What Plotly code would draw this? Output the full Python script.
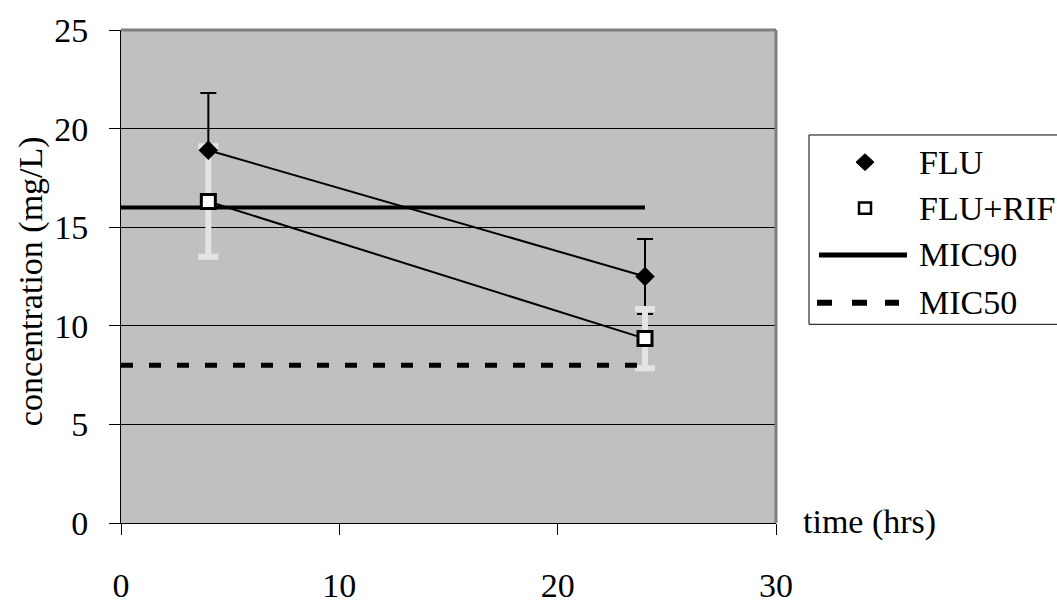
import plotly.graph_objects as go

# Sampling times (hrs) and measured concentrations (mg/L)
time_h = [4, 24]
flu_mean = [18.9, 12.5]
flu_sd = [2.9, 1.9]
flurif_mean = [16.3, 9.35]
flurif_sd = [2.8, 1.5]

# Reference MIC levels drawn across the dosing interval
mic_x = [0, 24]
mic90 = [16, 16]
mic50 = [8, 8]

series_names = ["FLU", "FLU+RIF", "MIC90", "MIC50"]
x_ticks = [0, 10, 20, 30]
y_ticks = [0, 5, 10, 15, 20, 25]

W, H = 1057, 616
ML, MR, MT, MB = 121, 281, 24, 66
PW, PH = W - ML - MR, H - MT - MB
FONT = "Liberation Serif, Times New Roman, serif"
FS = 34


def px(x, y):
    """Pixel position on the page -> paper coordinates."""
    return (x - ML) / PW, (H - MB - y) / PH


fig = go.Figure()

# FLU error bars (underneath everything else)
fig.add_trace(go.Scatter(
    x=time_h, y=flu_mean, mode="markers", showlegend=False, hoverinfo="skip",
    marker=dict(size=1, color="rgba(0,0,0,0)"),
    error_y=dict(type="data", array=flu_sd, visible=True,
                 color="black", thickness=2, width=8),
))

# Connecting lines
fig.add_trace(go.Scatter(x=time_h, y=flu_mean, mode="lines", showlegend=False,
                         line=dict(color="black", width=2)))
fig.add_trace(go.Scatter(x=time_h, y=flurif_mean, mode="lines", showlegend=False,
                         line=dict(color="black", width=2)))

# FLU+RIF error bars in light grey
fig.add_trace(go.Scatter(
    x=time_h, y=flurif_mean, mode="markers", showlegend=False, hoverinfo="skip",
    marker=dict(size=1, color="rgba(0,0,0,0)"),
    error_y=dict(type="data", array=flurif_sd, visible=True,
                 color="#e4e4e4", thickness=6, width=10),
))

# MIC lines
fig.add_trace(go.Scatter(x=mic_x, y=mic50, mode="lines", name=series_names[3],
                         showlegend=False,
                         line=dict(color="black", width=5, dash="12px,16px")))
fig.add_trace(go.Scatter(x=mic_x, y=mic90, mode="lines", name=series_names[2],
                         showlegend=False,
                         line=dict(color="black", width=4)))

# Markers on top
fig.add_trace(go.Scatter(x=time_h, y=flu_mean, mode="markers", name=series_names[0],
                         showlegend=False,
                         marker=dict(symbol="diamond", size=15, color="black")))
fig.add_trace(go.Scatter(x=time_h, y=flurif_mean, mode="markers", name=series_names[1],
                         showlegend=False,
                         marker=dict(symbol="square", size=14, color="white",
                                     line=dict(color="black", width=3))))

shapes = []
annotations = []

# Grey frame on top and right of the plot area
shapes.append(dict(type="line", xref="paper", yref="paper", x0=0, x1=1, y0=1, y1=1,
                   line=dict(color="#808080", width=3), layer="above"))
shapes.append(dict(type="line", xref="paper", yref="paper", x0=1, x1=1, y0=0, y1=1,
                   line=dict(color="#808080", width=3), layer="above"))

# Legend box
bx0, by0 = px(809, 136)
bx1, by1 = px(1062, 338)
shapes.append(dict(type="rect", xref="paper", yref="paper", x0=bx0, x1=bx1, y0=by1, y1=by0,
                   line=dict(color="black", width=1), fillcolor="white", layer="above"))

row_y = [165, 214, 264, 315]
text_x = 917

# diamond
cx, cy = 865, row_y[0]
pts = [px(cx, cy - 9), px(cx + 9, cy), px(cx, cy + 9), px(cx - 9, cy)]
path = "M " + " L ".join(f"{a},{b}" for a, b in pts) + " Z"
shapes.append(dict(type="path", xref="paper", yref="paper", path=path,
                   fillcolor="black", line=dict(color="black", width=1), layer="above"))
# square
cx, cy = 865, row_y[1]
sx0, sy0 = px(cx - 6, cy - 6)
sx1, sy1 = px(cx + 6, cy + 6)
shapes.append(dict(type="rect", xref="paper", yref="paper", x0=sx0, x1=sx1, y0=sy1, y1=sy0,
                   fillcolor="white", line=dict(color="black", width=2.5), layer="above"))
# solid line
lx0, ly = px(819, row_y[2])
lx1, _ = px(907, row_y[2])
shapes.append(dict(type="line", xref="paper", yref="paper", x0=lx0, x1=lx1, y0=ly, y1=ly,
                   line=dict(color="black", width=5), layer="above"))
# dashed line
for d0, d1 in [(817, 832), (852, 867), (885, 899)]:
    a, ly = px(d0, row_y[3])
    b, _ = px(d1, row_y[3])
    shapes.append(dict(type="line", xref="paper", yref="paper", x0=a, x1=b, y0=ly, y1=ly,
                       line=dict(color="black", width=6), layer="above"))

for name, ry in zip(series_names, row_y):
    tx, ty = px(text_x, ry)
    annotations.append(dict(xref="paper", yref="paper", x=tx, y=ty, text=name,
                            showarrow=False, xanchor="left", yanchor="middle",
                            font=dict(family=FONT, size=FS, color="black")))

# Axis titles
tx, ty = px(31, 292)
annotations.append(dict(xref="paper", yref="paper", x=tx, y=ty, text="concentration (mg/L)",
                        showarrow=False, textangle=-90, xanchor="center", yanchor="middle",
                        font=dict(family=FONT, size=FS, color="black")))
tx, ty = px(869, 549)
annotations.append(dict(xref="paper", yref="paper", x=tx, y=ty, text="time (hrs)",
                        showarrow=False, xanchor="center", yanchor="middle",
                        font=dict(family=FONT, size=FS, color="black")))

fig.update_layout(
    width=W, height=H,
    margin=dict(l=ML, r=MR, t=MT, b=MB, pad=0),
    paper_bgcolor="white",
    plot_bgcolor="#c0c0c0",
    showlegend=False,
    shapes=shapes,
    annotations=annotations,
    font=dict(family=FONT, size=FS, color="black"),
)
fig.update_xaxes(range=[0, 30], tickvals=x_ticks, ticks="outside", ticklen=11,
                 tickcolor="black", tickwidth=1, showline=True, linecolor="black",
                 linewidth=1, showgrid=False, zeroline=False, fixedrange=True,
                 ticklabelstandoff=21, tickfont=dict(family=FONT, size=FS))
fig.update_yaxes(range=[0, 25], tickvals=y_ticks, ticks="outside", ticklen=11,
                 tickcolor="black", tickwidth=1, showline=True, linecolor="black",
                 linewidth=1, showgrid=True, gridcolor="black", gridwidth=1,
                 zeroline=False, fixedrange=True, ticklabelstandoff=14,
                 tickfont=dict(family=FONT, size=FS))

fig.write_html("out.html")
